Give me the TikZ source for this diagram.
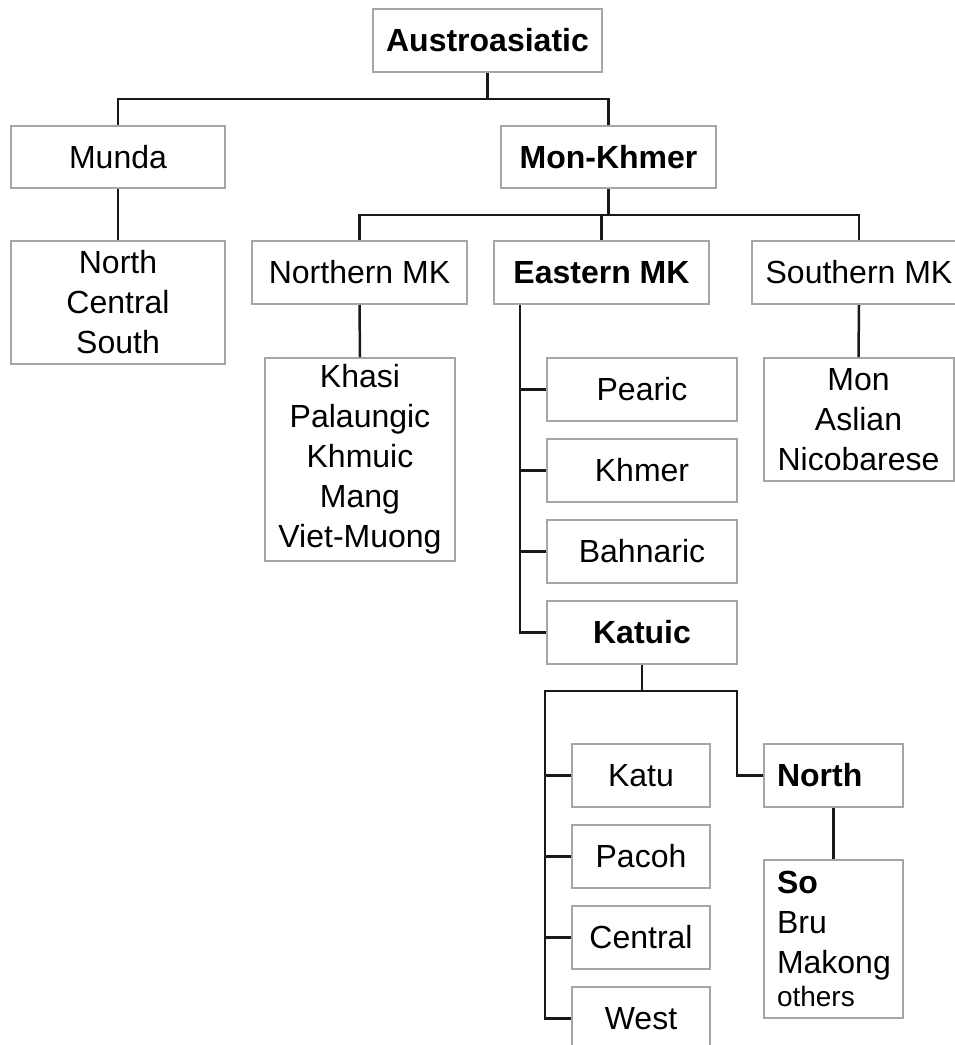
\documentclass[tikz,border=0pt]{standalone}
\usepackage{fontspec}
\setmainfont{Liberation Sans}
\usepackage{tikz}

\begin{document}
\begin{tikzpicture}[x=1pt, y=-1pt, node distance=81pt]

    \tikzstyle{group} = [rectangle, minimum width=215pt, minimum height=63pt, inner sep=0pt, align=center, draw=black!35, line width=2pt, font=\fontsize{32}{40}\selectfont]
    \tikzstyle{bold} = [font=\fontsize{32}{40}\selectfont\bfseries]
    \tikzstyle{sub} = [group, minimum width=190pt]
    \tikzstyle{leaf} = [group, minimum width=138pt]
    \tikzstyle{link} = [line width=2.5pt, black!90]

    \useasboundingbox (0,0) rectangle (954,1045);

    \node[group, bold, minimum width=229pt] (aa) at (487.5,40.5) {Austroasiatic};
    \node[group, minimum width=214pt, minimum height=62pt] (munda) at (118,157) {Munda};
    \node[group, bold, minimum height=62pt] (mk) at (608.5,157) {Mon-Khmer};
    \node[group, minimum width=214pt, minimum height=123pt] (ncs) at (118,302.5) {North\\Central\\South};
    \node[group] (nmk) at (359.5,272.5) {Northern MK};
    \node[group, bold] (emk) at (601.5,272.5) {Eastern MK};
    \node[group] (smk) at (859,272.5) {Southern MK};
    \node[sub, minimum height=203pt] (khasi) at (360,459.5) {Khasi\\Palaungic\\Khmuic\\Mang\\Viet-Muong};
    \node[sub, minimum height=123pt] (mon) at (858.5,419.5) {Mon\\Aslian\\Nicobarese};
    \node[sub] (pearic) at (642,389.5) {Pearic};
    \node[sub, below of=pearic] (khmer) {Khmer};
    \node[sub, below of=khmer] (bahnaric) {Bahnaric};
    \node[sub, bold, below of=bahnaric] (katuic) {Katuic};
    \node[leaf] (katu) at (641,775.5) {Katu};
    \node[leaf, below of=katu] (pacoh) {Pacoh};
    \node[leaf, below of=pacoh] (central) {Central};
    \node[leaf, below of=central] (west) {West};
    \node[leaf, bold, minimum width=139pt, text width=113pt, align=left] (north) at (833.5,775.5) {North};
    \node[leaf, minimum width=139pt, minimum height=158pt, text width=113pt, align=left] (so) at (833.5,939) {{\bfseries So}\\Bru\\Makong\\[-7pt]{\fontsize{28}{34}\selectfont others}};

    \draw[link] (aa.south) -- ++(0,26) -| (munda.north);
    \draw[link] (aa.south) -- ++(0,26) -| (mk.north);
    \draw[link] (munda.south) -- (ncs.north);
    \foreach \n in {nmk, emk, smk}
        \draw[link] (mk.south) -- ++(0,26) -| (\n.north);
    \draw[link] (nmk.south) -- (khasi.north);
    \draw[link] (smk.south) -- (mon.north);
    \draw[link] ([xshift=27pt]emk.south west) |- (katuic.west);
    \foreach \n in {pearic, khmer, bahnaric}
        \draw[link] (\n.west) -- ++(-26,0);
    \draw[link] (katuic.south) -- ++(0,26) coordinate (kj) -| ([xshift=-26pt]west.west) -- (west.west);
    \foreach \n in {katu, pacoh, central}
        \draw[link] (\n.west) -- ++(-26,0);
    \draw[link] (kj) -| ([xshift=-26pt]north.west) -- (north.west);
    \draw[link] (north.south) -- (so.north);

\end{tikzpicture}
\end{document}
